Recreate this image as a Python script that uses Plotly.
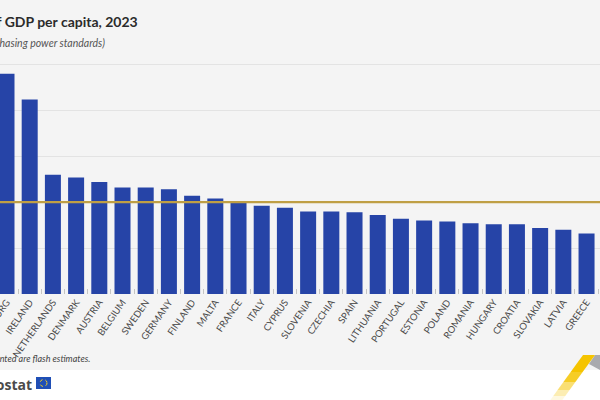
import plotly.graph_objects as go

# volume of GDP per capita, 2023 (EU = 100)
countries = ["LUXEMBOURG", "IRELAND", "NETHERLANDS", "DENMARK", "AUSTRIA", "BELGIUM",
             "SWEDEN", "GERMANY", "FINLAND", "MALTA", "FRANCE", "ITALY", "CYPRUS",
             "SLOVENIA", "CZECHIA", "SPAIN", "LITHUANIA", "PORTUGAL", "ESTONIA",
             "POLAND", "ROMANIA", "HUNGARY", "CROATIA", "SLOVAKIA", "LATVIA",
             "GREECE", "BULGARIA"]
values = [240, 212, 130, 127, 122, 116, 116, 114, 107, 104, 99, 96, 94,
          90, 90, 89, 86, 82, 80, 79, 77, 76, 76, 72, 70, 66, 64]
eu_value = 100

W, H = 600, 400
T, B = 55, 106          # plot area top / bottom margins in px
px_per_unit = 0.918
bg = "#f4f4f4"
font = "Lato, Roboto, sans-serif"


def py(p):
    # pixel row -> paper y
    return (H - B - p) / (H - T - B)


def px(p):
    return p / W


def path(points):
    return "M " + " L ".join(f"{px(x):.4f},{py(y):.4f}" for x, y in points) + " Z"


fig = go.Figure()
fig.add_trace(go.Bar(x=countries, y=values, marker_color="#2644a7",
                     marker_line_width=0, hoverinfo="x+y"))

shapes = [
    # white strip under the grey card
    dict(type="rect", xref="paper", yref="paper", x0=0, x1=1, y0=py(370), y1=py(400),
         fillcolor="white", line_width=0, layer="below"),
    # EU average line
    dict(type="line", xref="paper", yref="y", x0=0, x1=1, y0=eu_value, y1=eu_value,
         line=dict(color="#bf9f45", width=2.2), layer="above"),
    # EU flag
    dict(type="rect", xref="paper", yref="paper", x0=px(36), x1=px(51), y0=py(389), y1=py(377),
         fillcolor="#1f4fb6", line_width=0),
    dict(type="circle", xref="paper", yref="paper", x0=px(40), x1=px(47), y0=py(386.5), y1=py(379.5),
         line=dict(color="#ffd617", width=1, dash="dot")),
    # grey corner of the decoration
    dict(type="path", xref="paper", yref="paper",
         path=path([(595, 355), (600, 355), (600, 370), (589, 364)]),
         fillcolor="#a9aaae", line_width=0),
]
# yellow stripe fading towards the bottom-left
stripe = [(355, 372, 1.0), (372, 382, 0.85), (382, 390, 0.55), (390, 396, 0.3), (396, 400, 0.12)]
for y0, y1, op in stripe:
    d0, d1 = (y0 - 355) * 0.726, (y1 - 355) * 0.726
    shapes.append(dict(type="path", xref="paper", yref="paper",
                       path=path([(583 - d0, y0), (595 - d0, y0), (595 - d1, y1), (583 - d1, y1)]),
                       fillcolor="#f5c400", opacity=op, line_width=0))

annotations = [
    dict(text="<b>Volume of GDP per capita, 2023</b>", x=px(140), y=py(22), xref="paper", yref="paper",
         xanchor="right", yanchor="middle", showarrow=False,
         font=dict(family=font, size=14, color="#2b2b2b")),
    dict(text="<i>(EU = 100, based on purchasing power standards)</i>", x=px(107), y=py(43),
         xref="paper", yref="paper", xanchor="right", yanchor="middle", showarrow=False,
         font=dict(family=font, size=10.5, color="#555555")),
    dict(text="<i>Note: data presented are flash estimates.</i>", x=px(92), y=py(358),
         xref="paper", yref="paper", xanchor="right", yanchor="middle", showarrow=False,
         font=dict(family=font, size=9, color="#444444")),
    dict(text="<b>eurostat</b>", x=px(34), y=py(384), xref="paper", yref="paper",
         xanchor="right", yanchor="middle", showarrow=False,
         font=dict(family="Open Sans, sans-serif", size=14, color="#4a4a4a")),
]

fig.update_layout(
    width=W, height=H,
    margin=dict(l=0, r=0, t=T, b=B, pad=0, autoexpand=False),
    paper_bgcolor=bg, plot_bgcolor=bg,
    showlegend=False, bargap=0.31,
    shapes=shapes, annotations=annotations,
    xaxis=dict(type="category", range=[-0.28, 25.58], tickangle=-55, automargin=False,
               tickson="boundaries", ticks="inside", ticklen=5, tickcolor="#c4c4c4",
               tickfont=dict(family=font, size=9.5, color="#4a4a4a"),
               showgrid=False, showline=False, zeroline=False),
    yaxis=dict(range=[0, (H - T - B) / px_per_unit], tickvals=[0, 50, 100, 150, 200, 250],
               showticklabels=False, showgrid=True, gridcolor="#e3e3e3", gridwidth=1,
               zeroline=False, showline=False, automargin=False),
)

fig.write_html("out.html", config={"displayModeBar": False},
               post_script="document.body.style.margin='0';document.body.style.overflow='hidden';")
